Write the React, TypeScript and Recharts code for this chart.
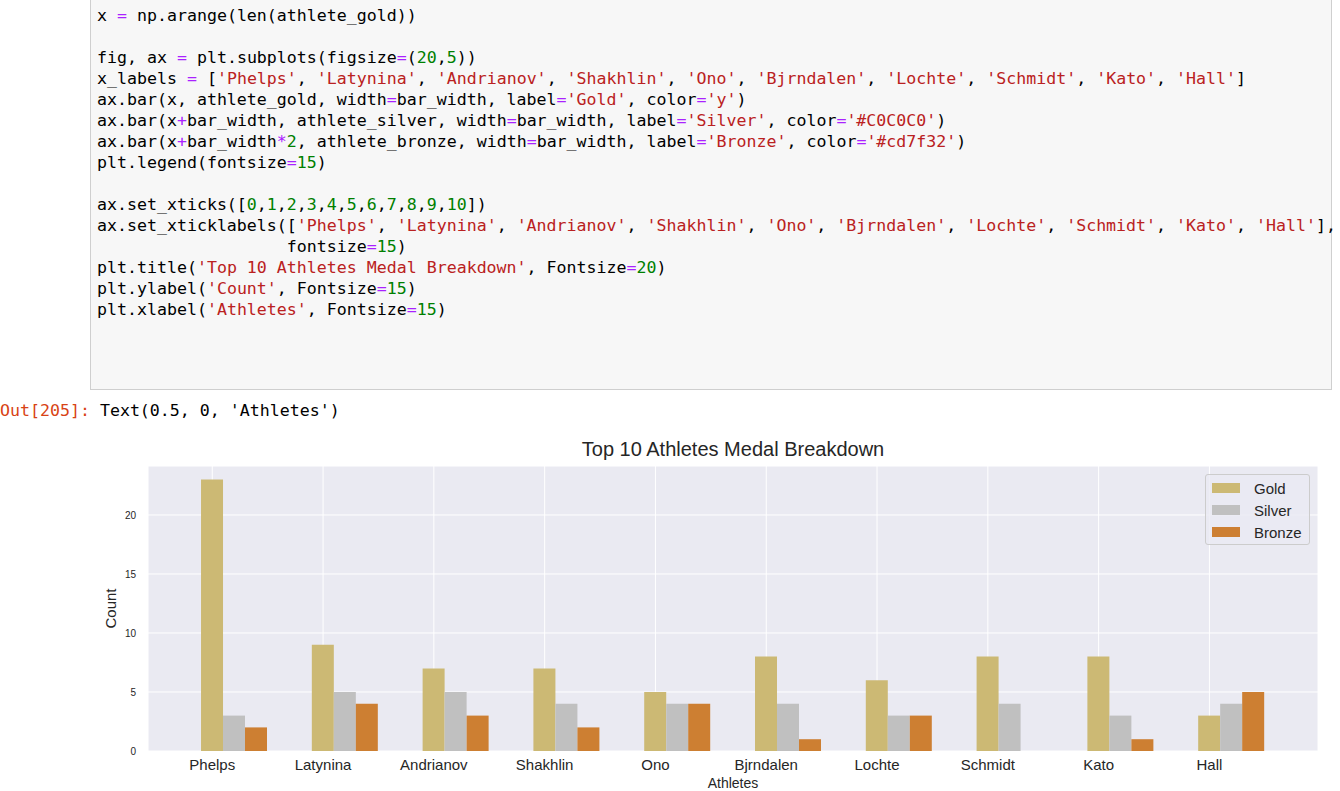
import React from "react";
import { BarChart, Bar, XAxis, YAxis, CartesianGrid } from "recharts";

const athletes = ["Phelps", "Latynina", "Andrianov", "Shakhlin", "Ono", "Bjrndalen", "Lochte", "Schmidt", "Kato", "Hall"];
const gold = [23, 9, 7, 7, 5, 8, 6, 8, 8, 3];
const silver = [3, 5, 5, 4, 4, 4, 3, 4, 3, 4];
const bronze = [2, 4, 3, 2, 4, 1, 3, 0, 1, 5];
const yTicks = [0, 5, 10, 15, 20];
const xTicks = [0, 1, 2, 3, 4, 5, 6, 7, 8, 9];

const data = athletes.map((a, i) => ({ x: i + 0.2, name: a, gold: gold[i], silver: silver[i], bronze: bronze[i] }));

const C = { s: "#ba2121", n: "#008000", o: "#aa22ff" };
type Seg = [string, string?];
const codeLines: Seg[][] = [
  [["x "], ["=", C.o], [" np.arange(len(athlete_gold))"]],
  [],
  [["fig, ax "], ["=", C.o], [" plt.subplots(figsize"], ["=", C.o], ["("], ["20", C.n], [","], ["5", C.n], ["))"]],
  [["x_labels "], ["=", C.o], [" ["], ["'Phelps'", C.s], [", "], ["'Latynina'", C.s], [", "], ["'Andrianov'", C.s], [", "], ["'Shakhlin'", C.s], [", "], ["'Ono'", C.s], [", "], ["'Bjrndalen'", C.s], [", "], ["'Lochte'", C.s], [", "], ["'Schmidt'", C.s], [", "], ["'Kato'", C.s], [", "], ["'Hall'", C.s], ["]"]],
  [["ax.bar(x, athlete_gold, width"], ["=", C.o], ["bar_width, label"], ["=", C.o], ["'Gold'", C.s], [", color"], ["=", C.o], ["'y'", C.s], [")"]],
  [["ax.bar(x"], ["+", C.o], ["bar_width, athlete_silver, width"], ["=", C.o], ["bar_width, label"], ["=", C.o], ["'Silver'", C.s], [", color"], ["=", C.o], ["'#C0C0C0'", C.s], [")"]],
  [["ax.bar(x"], ["+", C.o], ["bar_width"], ["*", C.o], ["2", C.n], [", athlete_bronze, width"], ["=", C.o], ["bar_width, label"], ["=", C.o], ["'Bronze'", C.s], [", color"], ["=", C.o], ["'#cd7f32'", C.s], [")"]],
  [["plt.legend(fontsize"], ["=", C.o], ["15", C.n], [")"]],
  [],
  [["ax.set_xticks(["], ["0", C.n], [","], ["1", C.n], [","], ["2", C.n], [","], ["3", C.n], [","], ["4", C.n], [","], ["5", C.n], [","], ["6", C.n], [","], ["7", C.n], [","], ["8", C.n], [","], ["9", C.n], [","], ["10", C.n], ["])"]],
  [["ax.set_xticklabels(["], ["'Phelps'", C.s], [", "], ["'Latynina'", C.s], [", "], ["'Andrianov'", C.s], [", "], ["'Shakhlin'", C.s], [", "], ["'Ono'", C.s], [", "], ["'Bjrndalen'", C.s], [", "], ["'Lochte'", C.s], [", "], ["'Schmidt'", C.s], [", "], ["'Kato'", C.s], [", "], ["'Hall'", C.s], ["],"]],
  [["                   fontsize"], ["=", C.o], ["15", C.n], [")"]],
  [["plt.title("], ["'Top 10 Athletes Medal Breakdown'", C.s], [", Fontsize"], ["=", C.o], ["20", C.n], [")"]],
  [["plt.ylabel("], ["'Count'", C.s], [", Fontsize"], ["=", C.o], ["15", C.n], [")"]],
  [["plt.xlabel("], ["'Athletes'", C.s], [", Fontsize"], ["=", C.o], ["15", C.n], [")"]],
];
const tops = [5, 26, 47, 68, 89, 110, 131, 152, 173, 194, 215, 236, 257, 278, 299];

const mono = "'DejaVu Sans Mono', monospace";
const sans = "'Liberation Sans', Arial, sans-serif";

export default function App() {
  return (
    <div style={{ position: "fixed", left: 0, top: 0, width: 1340, height: 791, background: "#fff", overflow: "hidden" }}>
      <div style={{ position: "absolute", left: 90, top: -10, width: 1242, height: 400, background: "#f7f7f7", border: "1px solid #cfcfcf", boxSizing: "border-box" }} />
      {codeLines.map((segs, i) => (
        <div key={i} style={{ position: "absolute", left: 97, top: tops[i], fontFamily: mono, fontSize: 16.6, lineHeight: "21px", whiteSpace: "pre", color: "#000" }}>
          {segs.map((s, j) => <span key={j} style={{ color: s[1] || "#000" }}>{s[0]}</span>)}
        </div>
      ))}
      <div style={{ position: "absolute", left: 0, top: 400, fontFamily: mono, fontSize: 16.6, lineHeight: "21px", whiteSpace: "pre" }}>
        <span style={{ color: "#d84315" }}>Out[205]:</span> Text(0.5, 0, 'Athletes')
      </div>
      <div style={{ position: "absolute", left: 148, width: 1170, top: 438, textAlign: "center", fontFamily: sans, fontSize: 20, color: "#262626" }}>Top 10 Athletes Medal Breakdown</div>
      <div style={{ position: "absolute", left: 148, width: 1170, top: 776, lineHeight: "15px", textAlign: "center", fontFamily: sans, fontSize: 14, color: "#262626" }}>Athletes</div>
      <div style={{ position: "absolute", left: 80, top: 600, width: 60, textAlign: "center", fontFamily: sans, fontSize: 15, color: "#262626", transform: "rotate(-90deg)" }}>Count</div>
      <div style={{ position: "absolute", left: 0, top: 0 }}>
        <BarChart width={1340} height={791} data={data} margin={{ top: 466, bottom: 0, left: 0, right: 22 }} barGap={0} barCategoryGap={0}>
          <CartesianGrid fill="#eaeaf2" stroke="#ffffff" strokeWidth={1} vertical horizontal />
          <XAxis dataKey="x" type="number" domain={[-0.58, 9.98]} ticks={xTicks} tickFormatter={(v: number) => athletes[v] ?? ""}
            axisLine={false} tickLine={false} height={40} allowDataOverflow
            tick={{ fontSize: 15, fill: "#262626", fontFamily: sans }} tickMargin={2} />
          <YAxis type="number" domain={[0, 24.15]} ticks={yTicks} axisLine={false} tickLine={false} width={148}
            tick={{ fontSize: 10, fill: "#262626", fontFamily: sans }} tickMargin={6} allowDataOverflow />
          <Bar dataKey="gold" fill="#ccb974" barSize={22} isAnimationActive={false} />
          <Bar dataKey="silver" fill="#c0c0c0" barSize={22} isAnimationActive={false} />
          <Bar dataKey="bronze" fill="#cd7f32" barSize={22} isAnimationActive={false} />
        </BarChart>
      </div>
      <div style={{ position: "absolute", left: 1205, top: 474, width: 105, height: 71, border: "1px solid #cccccc", borderRadius: 3, background: "rgba(234,234,242,0.8)", boxSizing: "border-box", fontFamily: sans, fontSize: 15, color: "#262626", padding: "2px 0 0 6px" }}>
        {[["Gold", "#ccb974"], ["Silver", "#c0c0c0"], ["Bronze", "#cd7f32"]].map(([l, c]) => (
          <div key={l} style={{ display: "flex", alignItems: "center", height: 22 }}>
            <div style={{ width: 28, height: 10, background: c, marginRight: 14 }} />{l}
          </div>
        ))}
      </div>
    </div>
  );
}
